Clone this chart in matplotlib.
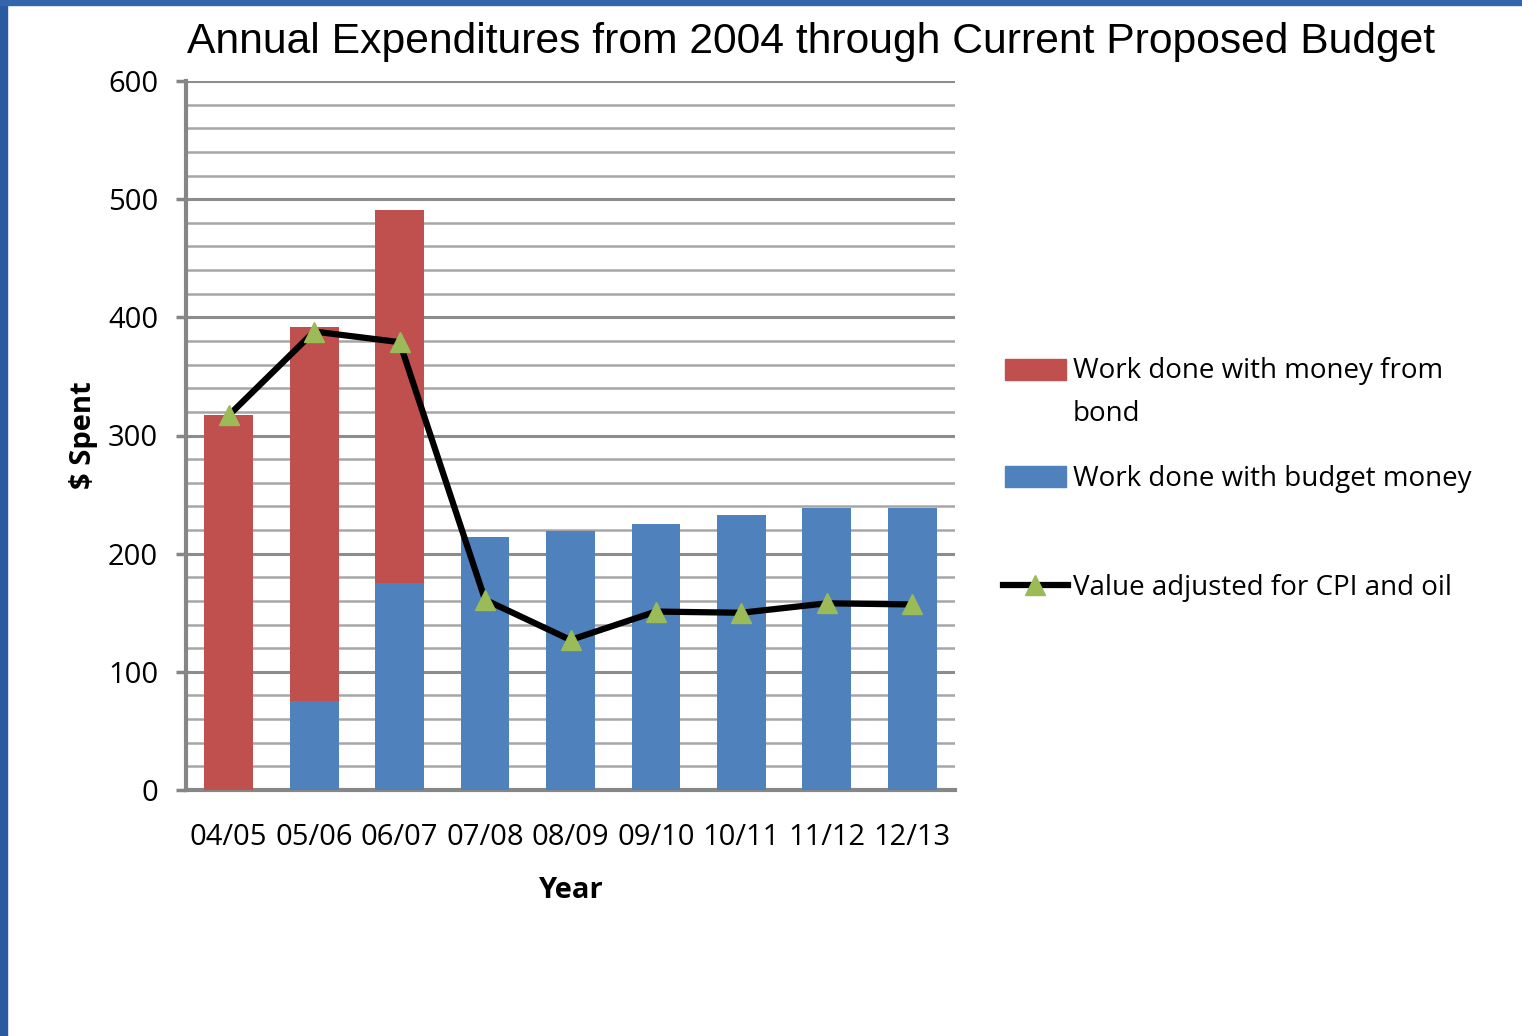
import numpy as np
import matplotlib
matplotlib.use('Agg')
import matplotlib.pyplot as plt
from matplotlib.patches import Rectangle
from matplotlib.lines import Line2D

years = ['04/05', '05/06', '06/07', '07/08', '08/09', '09/10', '10/11', '11/12', '12/13']
budget_money = [0, 75, 175, 214, 219, 225, 233, 239, 239]
bond_money = [317, 317, 316, 0, 0, 0, 0, 0, 0]
adjusted_value = [317, 388, 379, 161, 127, 151, 150, 158, 157]

legend_labels = ['Work done with money from\nbond', 'Work done with budget money',
                 'Value adjusted for CPI and oil']

RED = '#c0504d'
BLUE = '#4f81bd'
GREEN = '#9bbb59'
GRID = '#a6a6a6'
AXIS = '#868686'

W, H = 1522, 1036

plt.rcParams['font.family'] = ['Open Sans', 'DejaVu Sans']

fig = plt.figure(figsize=(W / 100, H / 100), dpi=100)
fig.patch.set_facecolor('white')


def fx(px):
    return px / W


def fy(py):
    return 1 - py / H


# blue slide frame on left and top
fig.patches.append(Rectangle((0, 0), fx(7), 1, transform=fig.transFigure,
                             color='#2a5aa0', zorder=0))
fig.patches.append(Rectangle((0, fy(5)), 1, 5 / H, transform=fig.transFigure,
                             color='#3466ae', zorder=0))

ax = fig.add_axes([fx(186), fy(790), (955 - 186) / W, (790 - 81) / H])

x = np.arange(len(years))
w = 0.57
ax.bar(x, budget_money, w, color=BLUE, zorder=3)
ax.bar(x, bond_money, w, bottom=budget_money, color=RED, zorder=3)
ax.plot(x, adjusted_value, color='black', lw=4.5, marker='^', ms=14,
        markerfacecolor=GREEN, markeredgecolor=GREEN, zorder=4)

ax.set_xlim(-0.5, len(years) - 0.5)
ax.set_ylim(0, 600)
ax.set_yticks(range(0, 601, 100))
ax.set_yticks(range(0, 601, 20), minor=True)
ax.set_xticks(x)
ax.set_xticklabels(years)
ax.tick_params(axis='y', which='major', length=7, width=2.5, color=AXIS,
               labelsize=21, pad=13)
ax.tick_params(axis='y', which='minor', length=0)
ax.tick_params(axis='x', length=0, labelsize=21, pad=24)

ax.grid(axis='y', which='minor', color=GRID, lw=1.8, zorder=0)
ax.grid(axis='y', which='major', color='#8c8c8c', lw=2.2, zorder=0)

for s in ['top', 'right']:
    ax.spines[s].set_visible(False)
ax.spines['left'].set_color(AXIS)
ax.spines['left'].set_linewidth(3)
ax.spines['bottom'].set_color(AXIS)
ax.spines['bottom'].set_linewidth(3)

ax.set_ylabel('$ Spent', fontsize=21, fontweight='bold')
ax.yaxis.set_label_coords(-0.114, 0.5)
ax.set_xlabel('Year', fontsize=21, fontweight='bold')
ax.xaxis.set_label_coords(0.5, -0.122)

fig.text(fx(811), fy(42), 'Annual Expenditures from 2004 through Current Proposed Budget',
         ha='center', va='center', fontsize=30.7, family='Liberation Sans')

# legend drawn by hand to match the wrapped layout
fig.patches.append(Rectangle((fx(1005), fy(380)), 61 / W, 21 / H, transform=fig.transFigure,
                             color=RED))
fig.text(fx(1073), fy(371), legend_labels[0].split('\n')[0], ha='left', va='center', fontsize=20)
fig.text(fx(1073), fy(414), legend_labels[0].split('\n')[1], ha='left', va='center', fontsize=20)
fig.patches.append(Rectangle((fx(1005), fy(487)), 61 / W, 21 / H, transform=fig.transFigure,
                             color=BLUE))
fig.text(fx(1073), fy(479), legend_labels[1], ha='left', va='center', fontsize=20)
fig.lines.append(Line2D([fx(1003), fx(1068)], [fy(585), fy(585)], transform=fig.transFigure,
                        color='black', lw=4.5))
fig.lines.append(Line2D([fx(1035)], [fy(585)], transform=fig.transFigure, marker='^', ms=14,
                        markerfacecolor=GREEN, markeredgecolor=GREEN, lw=0))
fig.text(fx(1073), fy(588), legend_labels[2], ha='left', va='center', fontsize=20)

plt.savefig('out.png', dpi=100, facecolor='white')
plt.close('all')
